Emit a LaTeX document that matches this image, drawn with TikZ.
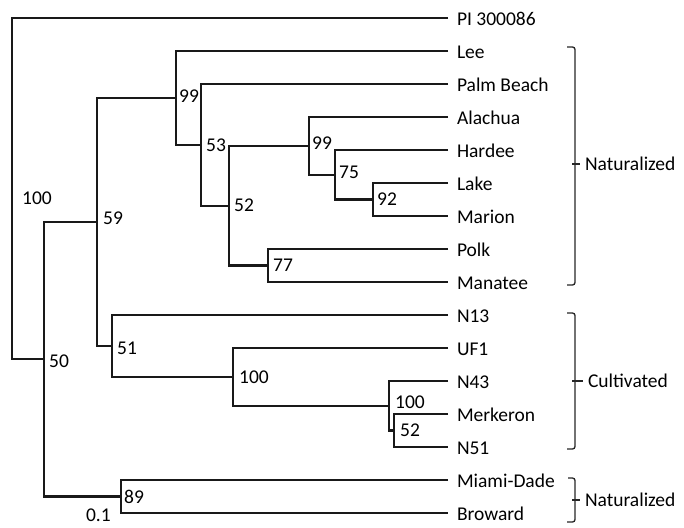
\documentclass[tikz,border=0pt]{standalone}
\usepackage{fontspec}
\setmainfont{Carlito}
\usetikzlibrary{positioning}

\begin{document}
\begin{tikzpicture}[x=1pt,y=-1pt,font=\fontsize{19.5}{22}\selectfont]
        \tikzstyle{branch}=[draw=black!90,line width=2.1pt]
        \tikzstyle{taxon}=[anchor=west,inner sep=0pt,outer sep=9pt,text height=15pt,text depth=0pt]
        \tikzstyle{support}=[inner sep=0pt]
        \tikzstyle{bracket}=[draw=black!85,line width=1.3pt,rounded corners=2.5pt]
        \tikzstyle{group}=[anchor=west,inner sep=0pt,outer sep=5pt]

        \useasboundingbox (0,0) rectangle (684,527);

       \begin{scope}
         % taxa
         \node [taxon] (pi) at (448,18) {PI 300086};
         \node [taxon] (lee) at (448,51) {Lee};
         \node [taxon] (palm) at (448,84) {Palm Beach};
         \node [taxon] (alachua) at (448,117) {Alachua};
         \node [taxon] (hardee) at (448,150) {Hardee};
         \node [taxon] (lake) at (448,183) {Lake};
         \node [taxon] (marion) at (448,216) {Marion};
         \node [taxon] (polk) at (448,249) {Polk};
         \node [taxon] (manatee) at (448,282) {Manatee};
         \node [taxon] (n13) at (448,315) {N13};
         \node [taxon] (uf1) at (448,348) {UF1};
         \node [taxon] (n43) at (448,381) {N43};
         \node [taxon] (merkeron) at (448,414) {Merkeron};
         \node [taxon] (n51) at (448,447) {N51};
         \node [taxon] (miami) at (448,480) {Miami-Dade};
         \node [taxon] (broward) at (448,513) {Broward};

         % internal nodes
         \coordinate (root) at (12,188.6);
         \coordinate (c50) at (44,359.3);
         \coordinate (c59) at (97,222);
         \coordinate (c99a) at (176,98);
         \coordinate (c53) at (201,144.9);
         \coordinate (c52a) at (229,205.7);
         \coordinate (c99b) at (309,145.9);
         \coordinate (c75) at (335,174.8);
         \coordinate (c92) at (373,199.5);
         \coordinate (c77) at (268,265.5);
         \coordinate (c51) at (112,346);
         \coordinate (c100a) at (233,376.9);
         \coordinate (c100b) at (389,405.8);
         \coordinate (c52b) at (394,430.5);
         \coordinate (c89) at (121,496.5);

         \draw[branch] (pi) -| (root) |- (c50);
         \draw[branch] (c59) -| (c50) |- (c89);
         \draw[branch] (c99a) -| (c59) |- (c51);
         \draw[branch] (lee) -| (c99a) |- (c53);
         \draw[branch] (palm) -| (c53) |- (c52a);
         \draw[branch] (c99b) -| (c52a) |- (c77);
         \draw[branch] (alachua) -| (c99b) |- (c75);
         \draw[branch] (hardee) -| (c75) |- (c92);
         \draw[branch] (lake) -| (c92) |- (marion);
         \draw[branch] (polk) -| (c77) |- (manatee);
         \draw[branch] (n13) -| (c51) |- (c100a);
         \draw[branch] (uf1) -| (c100a) |- (c100b);
         \draw[branch] (n43) -| (c100b) |- (c52b);
         \draw[branch] (merkeron) -| (c52b) |- (n51);
         \draw[branch] (miami) -| (c89) |- (broward);

         % support values
         \node [support, right=10pt of root, yshift=-9.5pt] (sroot) {100};
         \node [support, right=5pt of c50, yshift=-2pt] (s50) {50};
         \node [support, right=6pt of c59, yshift=4pt] (s59) {59};
         \node [support, right=3pt of c99a, yshift=2pt] (s99a) {99};
         \node [support, right=5pt of c53] (s53) {53};
         \node [support, right=5pt of c52a] (s52a) {52};
         \node [support, right=3pt of c99b, yshift=3pt] (s99b) {99};
         \node [support, right=4pt of c75, yshift=2pt] (s75) {75};
         \node [support, right=4pt of c92] (s92) {92};
         \node [support, right=5pt of c77] (s77) {77};
         \node [support, right=5pt of c51, yshift=-2pt] (s51) {51};
         \node [support, right=6pt of c100a] (s100a) {100};
         \node [support, right=6pt of c100b, yshift=4pt] (s100b) {100};
         \node [support, right=6pt of c52b] (s52b) {52};
         \node [support, right=3pt of c89] (s89) {89};
         \node [support, left=10pt of c89, yshift=-18.5pt] (scale) {0.1};

         % groups
         \node [group] (natA) at (580,164) {Naturalized};
         \node [group] (cult) at (583,381) {Cultivated};
         \node [group] (natB) at (580,500) {Naturalized};

         \draw[bracket] (567,47) -| (575,285) -- (567,285);
         \draw[bracket] (572,164) -- (natA);
         \draw[bracket] (567,313) -| (575,449) -- (567,449);
         \draw[bracket] (572,381) -- (cult);
         \draw[bracket] (568,478) -| (575,522) -- (567,522);
         \draw[bracket] (572,500) -- (natB);

        \end{scope}
      \end{tikzpicture}
\end{document}
